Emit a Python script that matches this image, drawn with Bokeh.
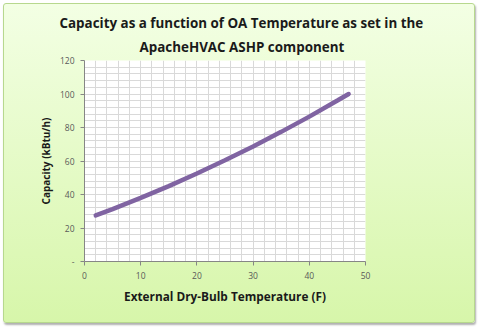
from bokeh.plotting import figure
from bokeh.models import Title, SingleIntervalTicker, FixedTicker, Range1d
from bokeh.embed import file_html
from bokeh.resources import INLINE

# Data
temp_f = [2, 5, 10, 15, 20, 25, 30, 35, 40, 45, 47]
capacity_kbtu = [27.5, 31.3, 38.0, 45.0, 52.5, 60.4, 68.7, 77.4, 86.5, 96.1, 100.0]
x_ticks = [0, 10, 20, 30, 40, 50]
y_ticks = [0, 20, 40, 60, 80, 100, 120]
y_tick_labels = {0: "-", 20: "20", 40: "40", 60: "60", 80: "80", 100: "100", 120: "120"}
title_lines = ["Capacity  as a function of OA Temperature  as set in the", "ApacheHVAC ASHP component"]
x_label = "External Dry-Bulb Temperature (F)"
y_label = "Capacity (kBtu/h)"

W, H = 472, 320
p = figure(width=W, height=H, output_backend="svg", toolbar_location=None,
           x_range=Range1d(0, 50), y_range=Range1d(0, 120),
           min_border_left=80, min_border_right=111, min_border_top=56, min_border_bottom=63,
           margin=(3, 3, 3, 3))
p.styles = {"background": "linear-gradient(#f3ffe4, #d7f6aa)",
            "border": "1px solid #b7d88e", "border-radius": "3px",
            "box-shadow": "1px 2px 2px #b0b0b0"}
p.border_fill_alpha = 0
p.background_fill_color = "white"
p.outline_line_color = None

p.line(temp_f, capacity_kbtu, line_color="#8064a2", line_width=4.5, line_cap="round")

p.xgrid.ticker = SingleIntervalTicker(interval=2)
p.ygrid.ticker = SingleIntervalTicker(interval=4)
for g in (p.xgrid, p.ygrid):
    g.grid_line_color = "#d9d9d9"
    g.grid_line_width = 1

p.xaxis.ticker = FixedTicker(ticks=x_ticks)
p.yaxis.ticker = FixedTicker(ticks=y_ticks)
p.yaxis.major_label_overrides = y_tick_labels
for ax in (p.xaxis, p.yaxis):
    ax.axis_line_color = "#868686"
    ax.major_tick_line_color = "#868686"
    ax.major_tick_in = 0
    ax.major_tick_out = 4
    ax.minor_tick_line_color = None
    ax.major_label_text_font = "Open Sans"
    ax.major_label_text_font_size = "8.5px"
    ax.major_label_text_color = "#595959"
    ax.axis_label_text_font = "Open Sans"
    ax.axis_label_text_font_style = "bold"
    ax.axis_label_text_color = "#1a1a1a"
p.xaxis.major_label_standoff = 6
p.yaxis.major_label_standoff = 6
p.xaxis.axis_label = x_label
p.xaxis.axis_label_text_font_size = "11.8px"
p.xaxis.axis_label_standoff = 6
p.yaxis.axis_label = y_label
p.yaxis.axis_label_text_font_size = "10px"
p.yaxis.axis_label_standoff = 4

p.title = None
title_offsets = [-25, 55]
title_standoffs = [-2, 10]
for t, off, so in reversed(list(zip(title_lines, title_offsets, title_standoffs))):
    p.add_layout(Title(text=t, align="left", offset=off,
                       text_font="Open Sans", text_font_style="bold", text_font_size="13.4px",
                       text_color="#1a1a1a", standoff=so), "above")

open("out.html", "w").write(file_html(p, INLINE))
